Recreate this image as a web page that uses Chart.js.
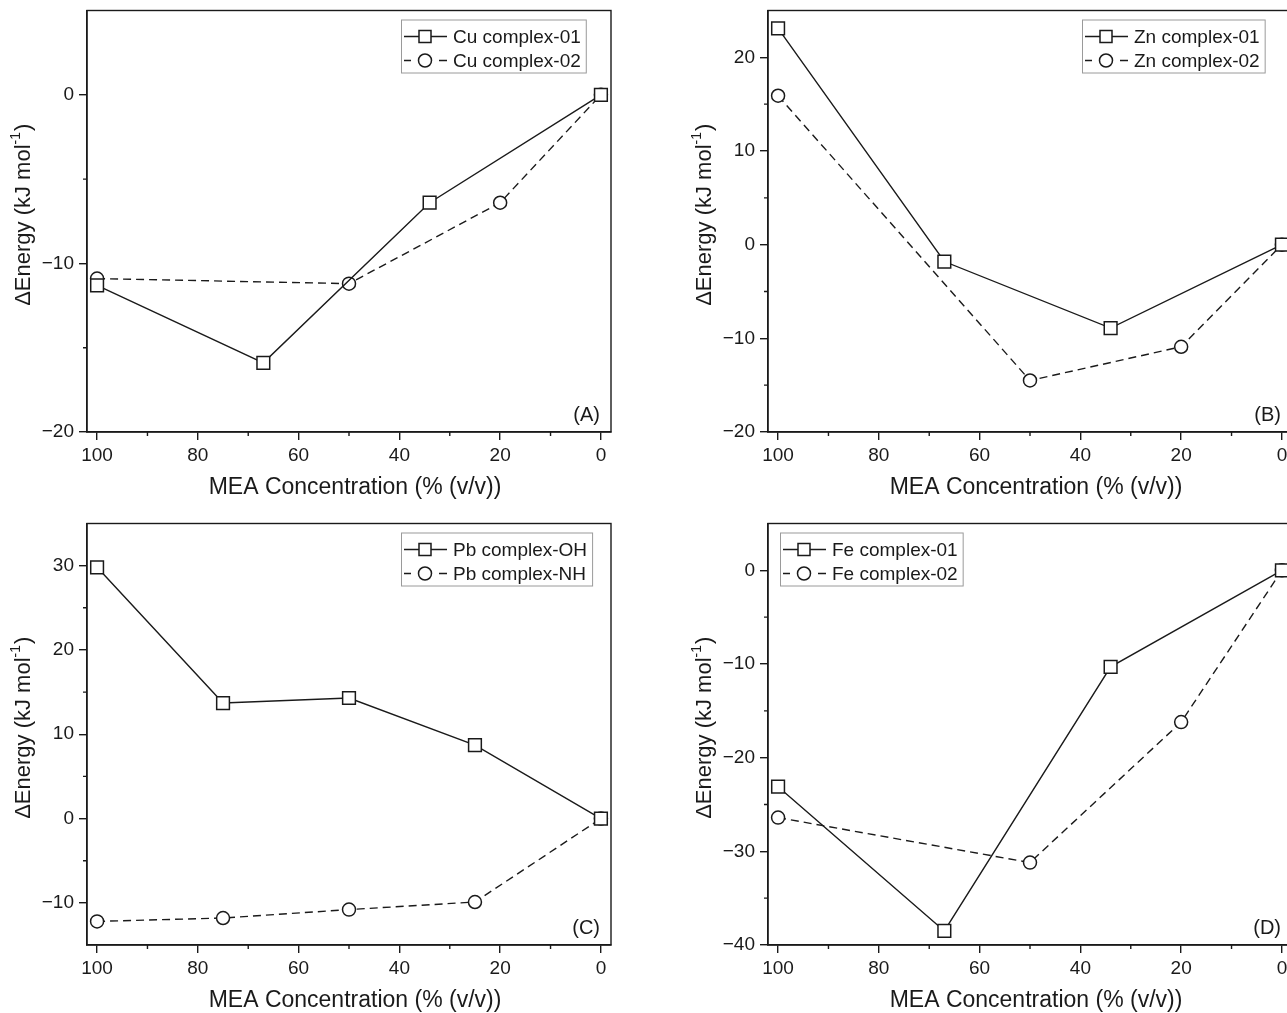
<!DOCTYPE html>
<html>
<head>
<meta charset="utf-8">
<script src="https://cdn.jsdelivr.net/npm/chart.js@4.4.1/dist/chart.umd.min.js"></script>
<style>
  html, body { margin: 0; padding: 0; background: #fff; overflow: hidden; width: 1287px; height: 1013px; }
  canvas { position: absolute; }
</style>
</head>
<body>
<canvas id="cA" width="640" height="510" style="left:0px;top:0px"></canvas>
<canvas id="cB" width="640" height="510" style="left:681px;top:0px"></canvas>
<canvas id="cC" width="640" height="510" style="left:0px;top:513px"></canvas>
<canvas id="cD" width="640" height="510" style="left:681px;top:513px"></canvas>
<script>
// x ticks (MEA %), shared by all panels
const xTicks = [100, 80, 60, 40, 20, 0];
const xMinor = [90, 70, 50, 30, 10];

// (A) Cu
const cuNames = ["Cu complex-01", "Cu complex-02"];
const cuX1 = [100, 67, 34, 0];
const cuY1 = [-11.3, -15.9, -6.4, 0];
const cuX2 = [100, 50, 20, 0];
const cuY2 = [-10.9, -11.2, -6.4, 0];
const yTicksA = [-20, -10, 0];
const yMinorA = [-15, -5];

// (B) Zn
const znNames = ["Zn complex-01", "Zn complex-02"];
const znX1 = [100, 67, 34, 0];
const znY1 = [23.1, -1.8, -8.9, 0];
const znX2 = [100, 50, 20, 0];
const znY2 = [15.9, -14.5, -10.9, 0];
const yTicksB = [-20, -10, 0, 10, 20];
const yMinorB = [-15, -5, 5, 15];

// (C) Pb
const pbNames = ["Pb complex-OH", "Pb complex-NH"];
const pbX = [100, 75, 50, 25, 0];
const pbY1 = [29.8, 13.7, 14.3, 8.7, 0];
const pbY2 = [-12.2, -11.8, -10.8, -9.9, 0];
const yTicksC = [-10, 0, 10, 20, 30];
const yMinorC = [-5, 5, 15, 25];

// (D) Fe
const feNames = ["Fe complex-01", "Fe complex-02"];
const feX1 = [100, 67, 34, 0];
const feY1 = [-23.1, -38.5, -10.3, 0];
const feX2 = [100, 50, 20, 0];
const feY2 = [-26.4, -31.2, -16.2, 0];
const yTicksD = [-40, -30, -20, -10, 0];
const yMinorD = [-35, -25, -15, -5];

const FONT = '"Liberation Sans", Arial, sans-serif';
const INK = "#1a1a1a";

function pts(xs, ys) {
  return xs.map((x, i) => ({ x: x, y: ys[i] }));
}

function fmt(v) {
  return v < 0 ? "\u2212" + Math.abs(v) : String(v);
}

// frame, minor ticks, axis titles, origin style legend, panel letter
const panelDeco = {
  id: "panelDeco",
  afterDraw(chart, args, opts) {
    const ctx = chart.ctx;
    const ca = chart.chartArea;
    const sx = chart.scales.x, sy = chart.scales.y;
    ctx.save();

    ctx.strokeStyle = INK;
    ctx.lineWidth = 1.4;
    ctx.strokeRect(ca.left, ca.top, ca.right - ca.left, ca.bottom - ca.top);

    // minor ticks
    ctx.beginPath();
    xMinor.forEach(v => {
      const px = sx.getPixelForValue(v);
      ctx.moveTo(px, ca.bottom);
      ctx.lineTo(px, ca.bottom + 4);
    });
    opts.yMinor.forEach(v => {
      const py = sy.getPixelForValue(v);
      ctx.moveTo(ca.left, py);
      ctx.lineTo(ca.left - 4, py);
    });
    ctx.stroke();

    // x title
    ctx.fillStyle = INK;
    ctx.font = "23px " + FONT;
    ctx.textAlign = "center";
    ctx.textBaseline = "middle";
    ctx.fillText("MEA Concentration (% (v/v))", (ca.left + ca.right) / 2 + 6, ca.bottom + 56);

    // y title with superscript
    ctx.save();
    ctx.translate(24, (ca.top + ca.bottom) / 2 - 6);
    ctx.rotate(-Math.PI / 2);
    const fMain = "22px " + FONT, fSup = "14px " + FONT;
    ctx.font = fMain;
    const wA = ctx.measureText("\u0394Energy (kJ mol").width;
    const wC = ctx.measureText(")").width;
    ctx.font = fSup;
    const wB = ctx.measureText("-1").width;
    let x0 = -(wA + wB + wC) / 2;
    ctx.textAlign = "left";
    ctx.font = fMain;
    ctx.fillText("\u0394Energy (kJ mol", x0, 0);
    ctx.font = fSup;
    ctx.fillText("-1", x0 + wA, -8);
    ctx.font = fMain;
    ctx.fillText(")", x0 + wA + wB + 1, 0);
    ctx.restore();

    // panel letter
    ctx.font = "20px " + FONT;
    ctx.textAlign = "right";
    ctx.fillText(opts.label, ca.right - 11, ca.bottom - 17);

    // legend
    const dsets = chart.data.datasets;
    ctx.font = "19px " + FONT;
    const tw = Math.max(...dsets.map(d => ctx.measureText(d.label).width));
    const bw = 52 + tw + 5, bh = 53;
    const bx = opts.legendSide === "right" ? ca.left + 314 : ca.left + 12;
    const by = ca.top + 9;
    ctx.strokeStyle = "#9a9a9a";
    ctx.lineWidth = 1;
    ctx.fillStyle = "#fff";
    ctx.fillRect(bx, by, bw, bh);
    ctx.strokeRect(bx + 0.5, by + 0.5, bw, bh);
    dsets.forEach((d, i) => {
      const cy = by + 17 + i * 24;
      const mx = bx + 24;
      ctx.strokeStyle = INK;
      ctx.lineWidth = 1.4;
      ctx.beginPath();
      if (i === 0) {
        ctx.moveTo(bx + 3, cy); ctx.lineTo(bx + 46, cy);
      } else {
        ctx.moveTo(bx + 3, cy); ctx.lineTo(bx + 10, cy);
        ctx.moveTo(bx + 38, cy); ctx.lineTo(bx + 46, cy);
      }
      ctx.stroke();
      ctx.fillStyle = "#fff";
      ctx.lineWidth = 1.5;
      ctx.beginPath();
      if (d.pointStyle === "rect") ctx.rect(mx - 6, cy - 6, 12, 12);
      else ctx.arc(mx, cy, 6.5, 0, Math.PI * 2);
      ctx.fill();
      ctx.stroke();
      ctx.fillStyle = INK;
      ctx.textAlign = "left";
      ctx.textBaseline = "middle";
      ctx.fillText(d.label, bx + 52, cy + 1);
    });

    ctx.restore();
  }
};

function series(label, data, dashed) {
  return {
    label: label,
    data: data,
    borderColor: INK,
    borderWidth: 1.4,
    borderDash: dashed ? [8, 5] : [],
    pointStyle: dashed ? "circle" : "rect",
    pointRadius: dashed ? 6.5 : 9,
    pointBorderWidth: 1.5,
    pointBackgroundColor: "#fff",
    pointBorderColor: INK,
    showLine: true,
    tension: 0,
    clip: false
  };
}

function makePanel(id, label, names, s1, s2, yMin, yMax, yTicks, yMinor, legendSide) {
  new Chart(document.getElementById(id), {
    type: "scatter",
    data: {
      datasets: [series(names[0], s1, false), series(names[1], s2, true)]
    },
    options: {
      responsive: false,
      animation: false,
      layout: { padding: { top: 10, right: 29, left: 0, bottom: 0 } },
      plugins: {
        legend: { display: false },
        tooltip: { enabled: false },
        panelDeco: { label: label, yMinor: yMinor, legendSide: legendSide }
      },
      scales: {
        x: {
          type: "linear",
          min: -2, max: 102, reverse: true,
          afterBuildTicks: s => { s.ticks = xTicks.map(v => ({ value: v })); },
          afterFit: s => { s.height = 78; s.paddingLeft = 0; s.paddingRight = 0; },
          ticks: { color: INK, font: { family: FONT, size: 19 }, padding: 4, maxRotation: 0, autoSkip: false, callback: fmt },
          grid: { drawOnChartArea: false, drawTicks: true, tickLength: 8, color: INK, lineWidth: 1.4 },
          border: { display: true, color: INK, width: 1.4 }
        },
        y: {
          type: "linear",
          min: yMin, max: yMax,
          afterBuildTicks: s => { s.ticks = yTicks.map(v => ({ value: v })); },
          afterFit: s => { s.width = 87; s.paddingTop = 0; s.paddingBottom = 0; },
          ticks: { color: INK, font: { family: FONT, size: 19 }, padding: 5, autoSkip: false, callback: fmt },
          grid: { drawOnChartArea: false, drawTicks: true, tickLength: 8, color: INK, lineWidth: 1.4 },
          border: { display: true, color: INK, width: 1.4 }
        }
      }
    },
    plugins: [panelDeco]
  });
}

makePanel("cA", "(A)", cuNames, pts(cuX1, cuY1), pts(cuX2, cuY2), -20, 5, yTicksA, yMinorA, "right");
makePanel("cB", "(B)", znNames, pts(znX1, znY1), pts(znX2, znY2), -20, 25, yTicksB, yMinorB, "right");
makePanel("cC", "(C)", pbNames, pts(pbX, pbY1), pts(pbX, pbY2), -15, 35, yTicksC, yMinorC, "right");
makePanel("cD", "(D)", feNames, pts(feX1, feY1), pts(feX2, feY2), -40, 5, yTicksD, yMinorD, "left");
</script>
</body>
</html>
